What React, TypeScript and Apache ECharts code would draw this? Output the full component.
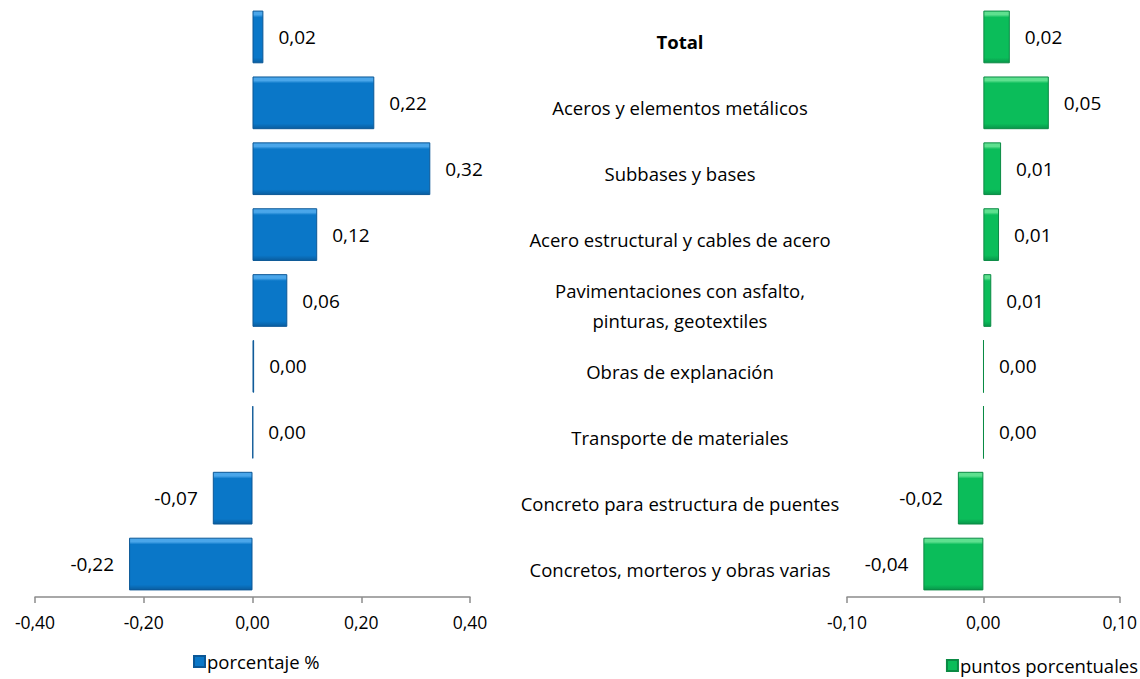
import React, { useEffect, useRef } from "react";
import * as echarts from "echarts";

const categories = [
  "Total",
  "Aceros y elementos metálicos",
  "Subbases y bases",
  "Acero estructural y cables de acero",
  "Pavimentaciones con asfalto,\npinturas, geotextiles",
  "Obras de explanación",
  "Transporte de materiales",
  "Concreto para estructura de puentes",
  "Concretos, morteros y obras varias",
];
const porcentaje = [0.02, 0.224, 0.327, 0.119, 0.064, 0.003, 0.001, -0.073, -0.227];
const porcentajeLabels = ["0,02", "0,22", "0,32", "0,12", "0,06", "0,00", "0,00", "-0,07", "-0,22"];
const puntos = [0.0194, 0.048, 0.013, 0.0115, 0.0058, 0.0002, 0.0002, -0.0187, -0.044];
const puntosLabels = ["0,02", "0,05", "0,01", "0,01", "0,01", "0,00", "0,00", "-0,02", "-0,04"];
const leftTicks = { min: -0.4, max: 0.4, interval: 0.2 };
const rightTicks = { min: -0.1, max: 0.1, interval: 0.1 };

const FONT = "Open Sans";

function grad(light: string, mid: string, dark: string) {
  return new echarts.graphic.LinearGradient(0, 0, 0, 1, [
    { offset: 0, color: light },
    { offset: 0.07, color: light },
    { offset: 0.12, color: mid },
    { offset: 0.9, color: mid },
    { offset: 1, color: dark },
  ]);
}

export default function App() {
  const ref = useRef<HTMLDivElement>(null);
  useEffect(() => {
    document.body.style.margin = "0";
    const chart = echarts.init(ref.current!, null, { renderer: "svg" });
    const blue = grad("#4aa6ea", "#0a77c8", "#0a5d9f");
    const green = grad("#5ee08f", "#0bbd5a", "#08964a");
    const axisCommon = {
      type: "value" as const,
      axisLine: { show: true, lineStyle: { color: "#8c8c8c", width: 1.5 } },
      axisTick: { show: true, length: 6, lineStyle: { color: "#8c8c8c", width: 1.5 } },
      splitLine: { show: false },
      axisLabel: {
        color: "#000",
        fontFamily: FONT,
        fontSize: 17.5,
        margin: 16,
        formatter: (v: number) => v.toFixed(2).replace(".", ","),
      },
    };
    const mkData = (vals: number[], labels: string[], dist: number) =>
      vals.map((v, i) => ({
        value: v,
        label: {
          show: true,
          position: v < 0 ? "left" : "right",
          distance: dist,
          formatter: labels[i],
          color: "#000",
          fontFamily: FONT,
          fontSize: 19,
        },
      }));
    const legendText = { fontFamily: FONT, fontSize: 18.5, color: "#000", padding: [0, 0, 0, -3] };
    chart.setOption({
      animation: false,
      legend: [
        {
          data: ["porcentaje %"],
          left: 193,
          top: 652,
          padding: 0,
          icon: "rect",
          itemWidth: 11,
          itemHeight: 11,
          textStyle: legendText,
        },
        {
          data: ["puntos porcentuales"],
          right: 2,
          top: 656,
          padding: 0,
          icon: "rect",
          itemWidth: 11,
          itemHeight: 11,
          textStyle: legendText,
        },
      ],
      grid: [
        { left: 35, right: 670, top: 4, bottom: 82 },
        { left: 847, right: 15, top: 4, bottom: 82 },
      ],
      xAxis: [
        { ...axisCommon, gridIndex: 0, ...leftTicks },
        { ...axisCommon, gridIndex: 1, ...rightTicks },
      ],
      yAxis: [
        {
          type: "category",
          gridIndex: 0,
          data: categories,
          inverse: true,
          axisLine: { show: false },
          axisTick: { show: false },
          axisLabel: { show: false },
        },
        {
          type: "category",
          gridIndex: 1,
          data: categories,
          inverse: true,
          axisLine: { show: false },
          axisTick: { show: false },
          axisLabel: {
            show: true,
            align: "center",
            margin: 167,
            color: "#000",
            fontFamily: FONT,
            fontSize: 18.5,
            lineHeight: 30,
            padding: [10, 0, 0, 0],
            formatter: (v: string) => (v === "Total" ? "{b|Total}" : v),
            rich: { b: { fontWeight: "bold", fontFamily: FONT, fontSize: 18.5, color: "#000" } },
          },
        },
      ],
      series: [
        {
          name: "porcentaje %",
          type: "bar",
          xAxisIndex: 0,
          yAxisIndex: 0,
          barWidth: "80%",
          data: mkData(porcentaje, porcentajeLabels, 15),
          itemStyle: { color: blue, borderColor: "#0b5796", borderWidth: 1 },
        },
        {
          name: "puntos porcentuales",
          type: "bar",
          xAxisIndex: 1,
          yAxisIndex: 1,
          barWidth: "80%",
          data: mkData(puntos, puntosLabels, 15),
          itemStyle: { color: green, borderColor: "#0a8a44", borderWidth: 1 },
        },
      ],
    });
    return () => chart.dispose();
  }, []);
  return <div ref={ref} style={{ width: 1140, height: 679 }} />;
}
